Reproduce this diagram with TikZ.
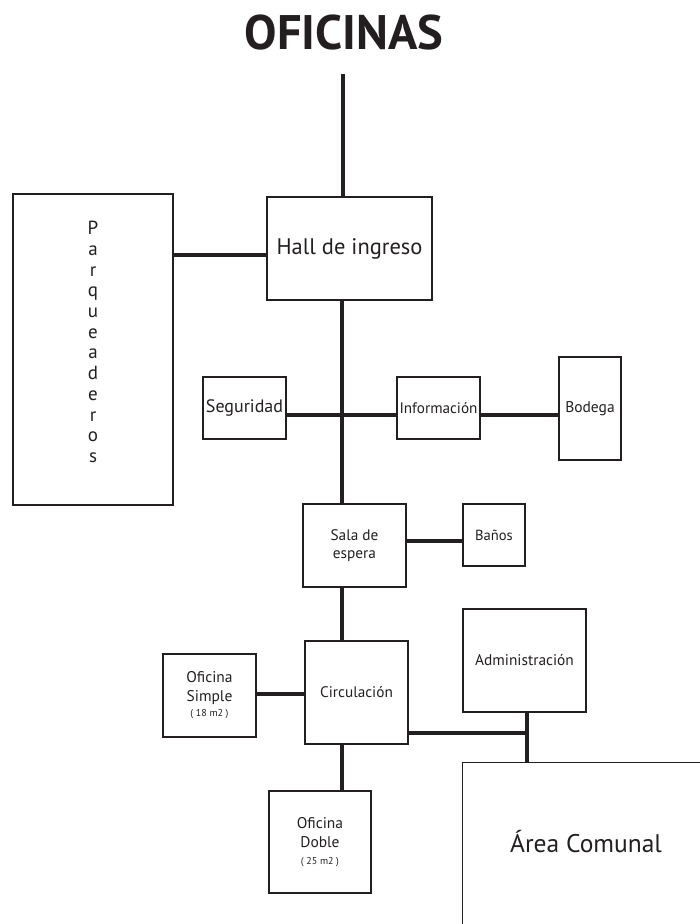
\documentclass[tikz,border=0pt]{standalone}
\usepackage{fontspec}
\setmainfont{PT Sans}
\definecolor{ink}{HTML}{231F20}
\tikzset{
  box/.style={draw=ink, line width=1.2pt, rectangle, inner sep=0pt, align=center, text=ink},
  link/.style={draw=ink, line width=3.2pt},
}
\newcommand{\fs}[2]{\fontsize{#1}{#2}\selectfont}
\begin{document}
\begin{tikzpicture}[x=1pt,y=-1pt]
\useasboundingbox (0,0) rectangle (700,924);
\clip (0,0) rectangle (700,924);

% title
\node[text=ink, font=\fs{48.5}{52}\bfseries] (title) at (344,33) {OFICINAS};

% rooms
\node[box, minimum width=165, minimum height=103, font=\fs{22.5}{26}] (hall) at (349.5,248.5) {Hall de ingreso};
\node[box, minimum width=160, minimum height=311] (parq) at (93,349.5) {};
\node[text=ink, align=center, font=\fs{19}{20.7}] (parqtxt) at (93,342)
  {P\\a\\r\\q\\u\\e\\a\\d\\e\\r\\o\\s};
\node[box, minimum width=83, minimum height=62, font=\fs{18}{20}] (seg) at (244.5,408) {Seguridad};
\node[box, minimum width=83, minimum height=62, font=\fs{15.2}{17}] (info) at (438.5,408) {Información};
\node[box, minimum width=62, minimum height=103, font=\fs{15.5}{17}] (bod) at (590,408.5) {Bodega};
\node[box, minimum width=103, minimum height=83, font=\fs{15.3}{17.5}] (sala) at (354.5,545.5) {Sala de\\espera};
\node[box, minimum width=62, minimum height=62, font=\fs{14.6}{16}] (banos) at (494,535) {Baños};
\node[box, minimum width=103, minimum height=103, font=\fs{15.3}{17}] (circ) at (356.5,692.5) {Circulación};
\node[box, minimum width=93, minimum height=83, font=\fs{15.5}{19}] (simple) at (209.5,695.5)
  {Oficina\\Simple\\[-4pt]{\fs{10}{11}( 18 m2 )}};
\node[box, minimum width=123, minimum height=103, font=\fs{15.4}{17}] (adm) at (524.5,660.5) {Administración};
\node[box, minimum width=102, minimum height=102, font=\fs{15.5}{19}] (doble) at (320,842)
  {Oficina\\Doble\\[-2pt]{\fs{10}{11}( 25 m2 )}};
\node[box, anchor=north west, minimum width=260, minimum height=180] (area) at (462,762) {};
\node[text=ink, font=\fs{25.5}{29}] (areatxt) at (586,842) {Área Comunal};

% connectors
\coordinate (top) at (343,74);
\coordinate (spine) at (342,0);
\coordinate (row) at (0,415);
\coordinate (adjx) at (527,0);
\draw[link] (top) -- (top |- hall.north);
\draw[link] (parq.east |- 0,255) -- (hall.west |- 0,255);
\draw[link] (hall.south -| spine) -- (sala.north -| spine);
\draw[link] (seg.east |- row) -- (info.west |- row);
\draw[link] (info.east |- row) -- (bod.west |- row);
\draw[link] (sala.east |- 0,541) -- (banos.west |- 0,541);
\draw[link] (sala.south -| spine) -- (circ.north -| spine);
\draw[link] (simple.east |- 0,694) -- (circ.west |- 0,694);
\draw[link] (circ.south -| spine) -- (doble.north -| spine);
\draw[link] (adm.south -| adjx) -- (area.north -| adjx);
\draw[link] (circ.east |- 0,733) -- (adjx |- 0,733);
\end{tikzpicture}
\end{document}
